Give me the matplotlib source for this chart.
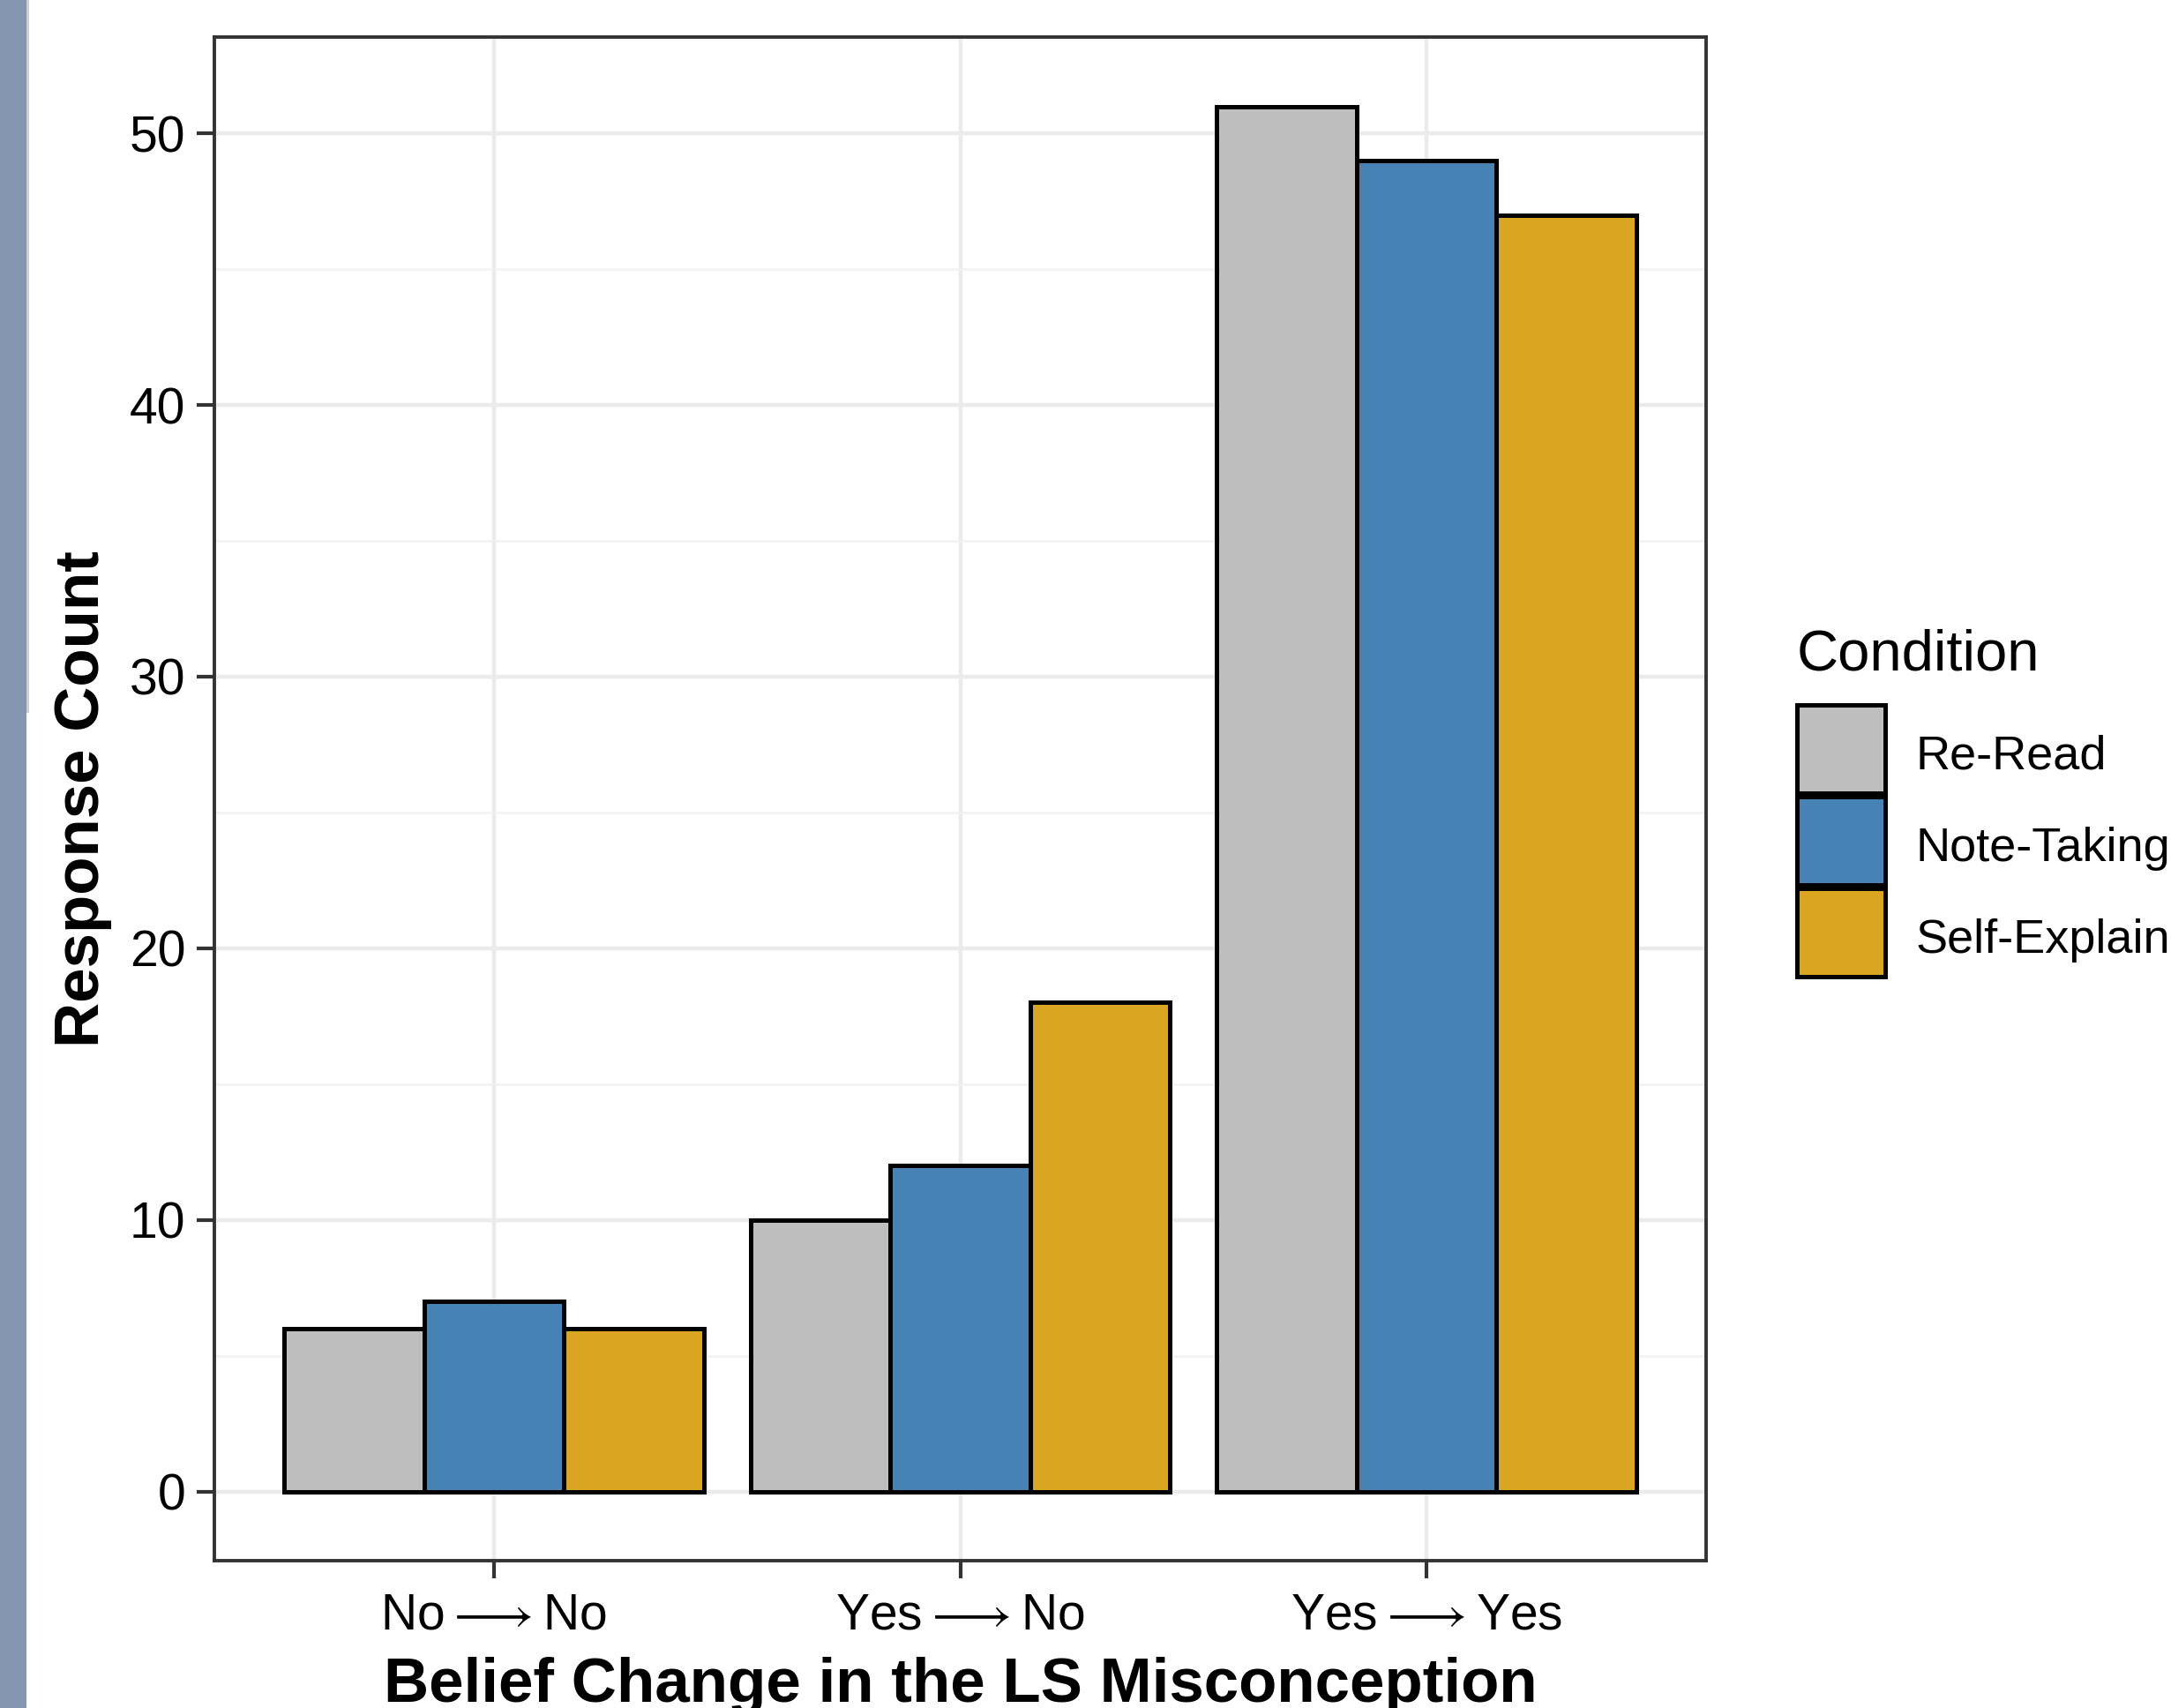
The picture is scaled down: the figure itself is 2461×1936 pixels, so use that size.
# Grouped bar chart: belief change by study condition
import matplotlib
matplotlib.use('Agg')
import matplotlib.pyplot as plt
import matplotlib.patches as mpatches
import numpy as np

plt.rcParams['font.family'] = ['Liberation Sans', 'DejaVu Sans']
# the long thin arrow comes from STIX through mathtext \mathsf
plt.rcParams['mathtext.fontset'] = 'custom'
plt.rcParams['mathtext.sf'] = 'STIXGeneral'
plt.rcParams['mathtext.rm'] = 'Liberation Sans'

# Data
categories = [r'No$\mathsf{\longrightarrow}$No', r'Yes$\mathsf{\longrightarrow}$No',
              r'Yes$\mathsf{\longrightarrow}$Yes']
conditions = ['Re-Read', 'Note-Taking', 'Self-Explain']
reread = [6, 10, 51]
notetaking = [7, 12, 49]
selfexplain = [6, 18, 47]
colors = ['#BEBEBE', '#4682B4', '#DAA520']

W, H = 2461, 1936
fig = plt.figure(figsize=(W / 100, H / 100), dpi=100)

# left side strip from the original page
fig.add_artist(mpatches.Rectangle((0, 0), 30 / W, 1, transform=fig.transFigure,
                                  facecolor='#8497B0', edgecolor='none'))
fig.add_artist(mpatches.Rectangle((30 / W, 1 - 808 / H), 3 / W, 808 / H,
                                  transform=fig.transFigure,
                                  facecolor='#D0D0D0', edgecolor='none'))

ax = fig.add_axes([243 / W, (H - 1769) / H, (1934 - 243) / W, (1769 - 42) / H])

x = np.arange(len(categories))
width = 0.3
series = [reread, notetaking, selfexplain]
for i, (vals, col, name) in enumerate(zip(series, colors, conditions)):
    ax.bar(x + (i - 1) * width, vals, width, color=col, edgecolor='black',
           linewidth=3.6, zorder=3, label=name)

# axes ranges like ggplot expansion
ax.set_xlim(-0.6, 2.6)
ax.set_ylim(-2.55, 53.55)
ax.set_xticks(x)
ax.set_xticklabels(categories)
ax.set_yticks([0, 10, 20, 30, 40, 50])
ax.set_yticks([5, 15, 25, 35, 45], minor=True)

# grid
ax.grid(which='major', color='#EBEBEB', linewidth=3.2, zorder=0)
ax.grid(which='minor', axis='y', color='#F2F2F2', linewidth=1.8, zorder=0)
ax.set_axisbelow(True)

for sp in ax.spines.values():
    sp.set_color('#333333')
    sp.set_linewidth(2.8)

ax.tick_params(axis='both', which='major', length=14.5, width=3, color='#333333',
               labelsize=41, labelcolor='black')
ax.tick_params(axis='y', which='major', pad=9)
ax.tick_params(axis='x', which='major', pad=11)
ax.tick_params(axis='both', which='minor', length=0)

ax.set_ylabel('Response Count', fontsize=51, fontweight='bold', labelpad=14)
ax.set_xlabel('Belief Change in the LS Misconception', fontsize=51,
              fontweight='bold', labelpad=14)

# legend, drawn by hand to get ggplot-like square keys
fig.text(2037 / W, 1 - 760 / H, 'Condition', fontsize=47, ha='left', va='baseline')
key_w, key_h, key_step = 100, 100, 104
for i, (name, col) in enumerate(zip(conditions, colors)):
    top = 799 + i * key_step
    fig.add_artist(mpatches.Rectangle((2037 / W, 1 - (top + key_h) / H), key_w / W, key_h / H,
                                      transform=fig.transFigure, facecolor=col,
                                      edgecolor='black', linewidth=3.6))
    fig.text(2172 / W, 1 - (top + 73) / H, name, fontsize=39, ha='left', va='baseline')

fig.savefig('out.png', dpi=100)
